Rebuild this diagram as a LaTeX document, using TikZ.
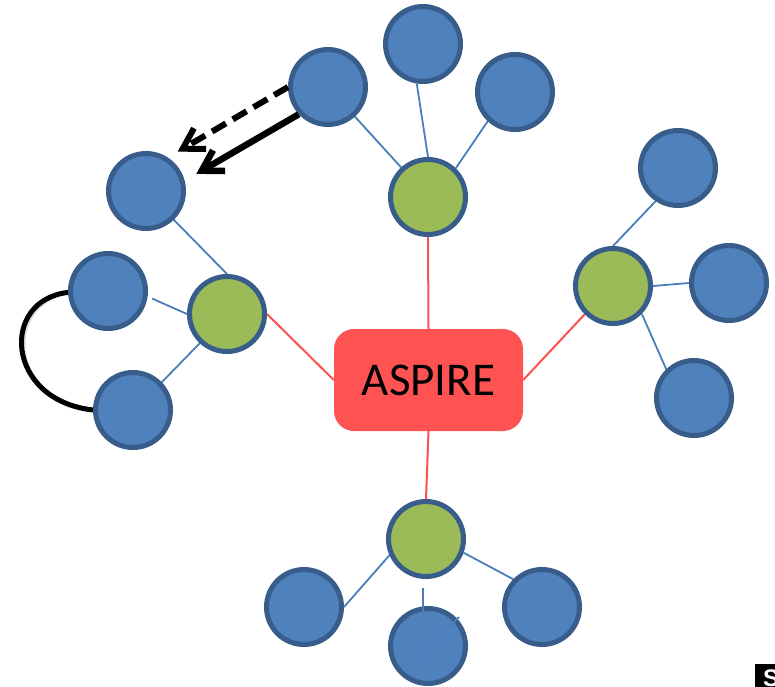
\documentclass[tikz,border=0pt]{standalone}
\usepackage{fontspec}
\setmainfont{Carlito}
\setsansfont{Liberation Sans}
\usetikzlibrary{arrows.meta,backgrounds}
\definecolor{cBlue}{HTML}{4F81BD}
\definecolor{cBord}{HTML}{385D8A}
\definecolor{cGreen}{HTML}{9BBB59}
\definecolor{cRed}{HTML}{FF5353}
\definecolor{cRedLine}{HTML}{FF4F4F}
\definecolor{cBlueLine}{HTML}{4A7EBB}
\begin{document}
\begin{tikzpicture}[x=1pt,y=-1pt,
  bnode/.style={circle, draw=cBord, fill=cBlue, line width=5pt, minimum size=75pt, inner sep=0pt},
  gnode/.style={bnode, fill=cGreen},
  bconn/.style={draw=cBlueLine, line width=1.8pt},
  rconn/.style={draw=cRedLine, line width=2pt},
  hub/.style={rectangle, rounded corners=20pt, fill=cRed, minimum width=189pt, minimum height=102pt, inner sep=0pt, font=\fontsize{47}{50}\selectfont},
  fatarrow/.style={line width=6pt, -{Straight Barb[length=20pt,width=24pt]}},
  shadowline/.style={draw=black!18, line width=5.5pt},
  loopline/.style={line width=5pt, black},
]
\useasboundingbox (0,0) rectangle (775,686);

% hub
\node[hub] (hub) at (428.5,380) {ASPIRE};

% top cluster
\node[gnode] (tg) at (428,197) {};
\node[bnode] (tt) at (423,44) {};
\node[bnode] (tr) at (515,92) {};
\node[bnode] (src) at (328,87) {};
\node[bnode] (fl) at (146,191) {};

% left cluster
\node[gnode] (lg) at (227,314) {};
\node[bnode] (lb1) at (108,291) {};
\node[bnode] (lb2) at (133,410) {};

% right cluster
\node[gnode] (rg) at (613,286) {};
\node[bnode] (rt) at (678,168) {};
\node[bnode] (rr) at (729,283) {};
\node[bnode] (rb) at (694,398) {};

% bottom cluster
\node[gnode] (bg) at (426,539) {};
\node[bnode] (bl) at (304,607) {};
\node[bnode] (bm) at (428,646) {};
\node[bnode] (br) at (542,607) {};

\begin{scope}[on background layer]
  % red connectors
  \draw[rconn] (tg.south) -- (hub.north);
  \draw[rconn] (bg.north) -- (hub.south);
  \draw[rconn] (lg.0) -- (hub.west);
  \draw[rconn] (rg.225) -- (hub.east);
  % blue connectors
  \draw[bconn] (tt.261) -- (tg.90);
  \draw[bconn] (tr.227) -- (tg.46);
  \draw[bconn] (src) -- (tg);
  \draw[bconn] (fl.-46) -- (lg.90);
  \draw[bconn, shorten <=5pt] (lb1.-8) -- (lg.180);
  \draw[bconn] (lb2.44) -- (lg.227);
  \draw[bconn] (rg.90) -- (rt.236);
  \draw[bconn] (rg.0) -- (rr.180);
  \draw[bconn] (rg.-44) -- (rb.134);
  \draw[bconn] (bg.204) -- (bl.0);
  \draw[bconn] (bg.-20) -- (br.136);
\end{scope}

% stray strokes in the bottom cluster
\coordinate (v1) at (423,588);
\coordinate (v2) at (423,618);
\coordinate (d1) at (407,672);
\coordinate (d2) at (459,617);
\draw[bconn] (v1) -- (v2);
\draw[bconn] (d1) -- (d2);

% soft shadows
\begin{scope}[shift={(2.5,3.5)}, opacity=0.6]
  \draw[shadowline, dash pattern=on 16pt off 8pt, shorten >=15pt] (src.180) -- (fl.57);
  \draw[shadowline, shorten >=17pt] (src.223) -- (fl.15);
  \draw[shadowline, line width=4.5pt] (lb1.182) .. controls (0,300) and (5,400) .. (lb2.180);
\end{scope}

% arrows
\draw[fatarrow, dash pattern=on 16pt off 8pt, shorten >=11.5pt] (src.180) -- (fl.57);
\draw[fatarrow, line width=6.5pt, shorten >=13.5pt] (src.223) -- (fl.15);

% loop
\draw[loopline] (lb1.182) .. controls (0,300) and (5,400) .. (lb2.180);

% corner fragment
\begin{scope}
  \clip (0,0) rectangle (775,686);
  \fill[black] (755,664) rectangle (780,690);
  \node[anchor=north west, text=white, inner sep=0pt, font=\sffamily\bfseries\fontsize{24}{24}\selectfont] (corner) at (763,670) {S};
\end{scope}
\end{tikzpicture}
\end{document}
